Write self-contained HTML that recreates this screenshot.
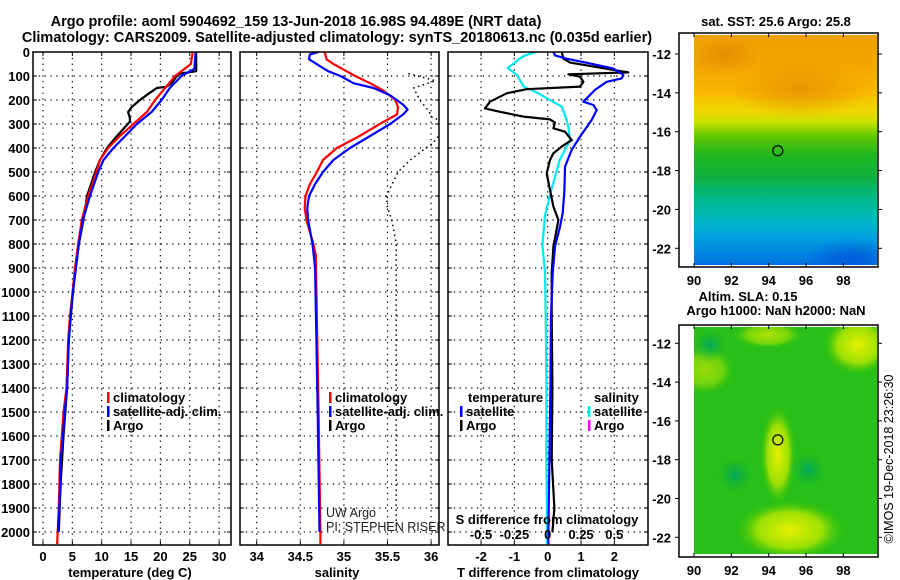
<!DOCTYPE html>
<html><head><meta charset="utf-8">
<style>
html,body{margin:0;padding:0;background:#fff;}
svg{display:block;font-family:"Liberation Sans",Arial,sans-serif;}
.t{font-weight:bold;font-size:13px;fill:#000;}
.tk{font-weight:bold;font-size:13px;fill:#000;}
</style></head>
<body>
<svg id="fig" width="900" height="580" viewBox="0 0 900 580" xmlns="http://www.w3.org/2000/svg">
<defs>
<linearGradient id="sstg" x1="0" y1="0" x2="0" y2="1">
<stop offset="0" stop-color="#f0a000"/><stop offset="0.12" stop-color="#f2a400"/><stop offset="0.25" stop-color="#f8b800"/>
<stop offset="0.33" stop-color="#f0d800"/><stop offset="0.38" stop-color="#c8e000"/><stop offset="0.44" stop-color="#60c800"/>
<stop offset="0.52" stop-color="#20b820"/><stop offset="0.62" stop-color="#10b040"/><stop offset="0.72" stop-color="#00b890"/>
<stop offset="0.8" stop-color="#00b8c0"/><stop offset="0.88" stop-color="#00a0e0"/><stop offset="1" stop-color="#0070e0"/>
</linearGradient>
<radialGradient id="yb"><stop offset="0" stop-color="#e8f000"/><stop offset="0.6" stop-color="#b8e800" stop-opacity="0.8"/><stop offset="1" stop-color="#40c000" stop-opacity="0"/></radialGradient>
<radialGradient id="db"><stop offset="0" stop-color="#00a860"/><stop offset="1" stop-color="#20b820" stop-opacity="0"/></radialGradient>
<radialGradient id="ob"><stop offset="0" stop-color="#e08000" stop-opacity="0.6"/><stop offset="1" stop-color="#e08000" stop-opacity="0"/></radialGradient>
<radialGradient id="bb"><stop offset="0" stop-color="#0050d8" stop-opacity="0.7"/><stop offset="1" stop-color="#0050d8" stop-opacity="0"/></radialGradient>
<clipPath id="cm1"><rect x="694" y="35" width="183" height="230"/></clipPath>
<clipPath id="cm2"><rect x="694" y="327" width="183" height="227"/></clipPath>
<clipPath id="c2"><rect x="240" y="52" width="199" height="493"/></clipPath>
</defs>
<g id="root"></g>
</svg>
<script>
// ---------- data ----------
const depthTicks = [0,100,200,300,400,500,600,700,800,900,1000,1100,1200,1300,1400,1500,1600,1700,1800,1900,2000];
const tempTicks = [0,5,10,15,20,25,30];
const salTicks = [34,34.5,35,35.5,36];
const salTickLabels = ["34","34.5","35","35.5","36"];
const tdiffTicks = [-2,-1,0,1,2];
const sdiffTicks = [-0.5,-0.25,0,0.25,0.5];
const sdiffTickLabels = ["-0.5","-0.25","0","0.25","0.5"];

const climTdepth = [0,50,100,150,200,250,300,350,400,450,500,600,700,800,900,1000,1100,1200,1400,1500,1600,1700,1800,1900,2000,2050];
const climTemp   = [25.5,25.2,22.5,20.8,19.1,17.7,15.4,13.1,11.1,9.7,9.1,7.7,6.6,6.0,5.45,5.05,4.6,4.3,4.0,3.5,3.2,2.9,2.8,2.7,2.5,2.4];
const satTdepth  = [0,70,100,150,200,250,300,350,400,450,500,600,700,800,900,1000,1100,1200,1400,1500,1600,1700,1800,1900,1960,2000];
const satTemp    = [26.0,25.8,23.6,21.6,20.2,18.5,16.0,14.0,12.0,10.3,9.4,8.0,6.8,6.1,5.6,5.1,4.7,4.4,4.1,3.7,3.4,3.0,2.9,2.8,2.6,2.6];
const argoTdepth = [0,80,90,100,130,145,150,170,200,230,250,275,290,350,400,450,500,600,700,800,900,1000,1200,1400,1600,1800,2000];
const argoTemp   = [26.1,26.1,23.4,22.8,21.9,21.0,19.4,18.2,16.5,15.1,14.5,14.8,14.8,12.6,10.9,9.7,8.9,7.5,6.9,6.1,5.6,5.1,4.4,4.1,3.5,3.0,2.7];

const climSdepth = [0,30,50,80,100,130,160,200,230,260,300,350,400,450,500,550,600,650,700,750,800,850,900,1500,2000,2050];
const climSal    = [34.78,34.80,34.88,35.03,35.13,35.30,35.45,35.59,35.62,35.61,35.41,35.18,34.92,34.76,34.69,34.61,34.56,34.55,34.57,34.61,34.65,34.68,34.68,34.71,34.73,34.73];
const satSdepth  = [0,10,30,60,80,100,130,150,180,220,240,260,300,350,400,450,500,550,600,650,700,800,900,1500,2000];
const satSal     = [34.71,34.61,34.60,34.73,34.82,34.96,35.11,35.34,35.53,35.68,35.73,35.68,35.53,35.30,35.07,34.88,34.76,34.67,34.60,34.58,34.59,34.64,34.67,34.70,34.72];
const argoSdepth = [90,110,120,150,200,250,270,300,380,400,450,500,600,650,700,800,900,1200,1600,2000];
const argoSal     = [35.74,35.95,36.05,35.80,35.87,35.98,36.0,36.2,36.02,35.94,35.76,35.62,35.49,35.50,35.55,35.60,35.60,35.60,35.60,35.60];

const dTsatDepth = [0,14,28,49,69,96,110,124,158,207,221,242,283,353,408,478,575,672,728,811,922,1100,1400,1700,2000,2050];
const dTsat      = [0.17,0.22,0.57,1.32,1.97,2.27,2.22,1.77,1.42,1.07,1.37,1.47,1.32,0.97,0.72,0.52,0.50,0.45,0.37,0.22,0.15,0.10,0.08,0.05,0.02,0.02];
const dTargoDepth = [0,28,44,85,93,103,124,144,155,172,207,235,249,269,281,294,318,332,367,394,422,450,506,575,644,700,811,922,1100,1400,1700,1900,2000];
const dTargo      = [0.42,0.47,0.67,2.42,0.62,0.97,1.07,0.97,-0.63,-1.23,-1.73,-1.88,-1.43,-0.73,0.07,0.22,0.17,0.52,0.72,0.42,0.17,0.07,-0.03,0.07,0.17,0.32,0.17,0.12,0.12,0.14,0.12,0.20,0.14];
const dSsatDepth = [0,14,28,67,96,144,172,207,228,263,311,367,408,450,569,681,806,917,1100,1400,1700,2000,2050];
const dSsat      = [-0.083,-0.17,-0.21,-0.30,-0.23,-0.18,-0.07,0.04,0.105,0.13,0.155,0.167,0.13,0.09,0.03,-0.02,-0.04,-0.02,-0.015,-0.01,-0.01,-0.005,-0.005];

const mapLon = [90,92,94,96,98];
const mapLat = [-12,-14,-16,-18,-20,-22];
const argoLon = 94.49, argoLat = -16.98;

// ---------- helpers ----------
const NS="http://www.w3.org/2000/svg";
const root=document.getElementById('root');
function mk(tag,attrs,parent,text){const e=document.createElementNS(NS,tag);for(const k in attrs)e.setAttribute(k,attrs[k]);if(text!==undefined)e.textContent=text;(parent||root).appendChild(e);return e;}
const Y0=52, YS=0.24;
const yD=d=>Y0+d*YS;
const PT=545;
const xT=v=>43+v*5.87;
const xS=v=>256.7+(v-34)*87.2;
const xdT=v=>547.7+v*33.33;
const xdS=v=>547.7+v*133.3;

function panel(name,x0,x1,xticks,xf){
  const g=mk('g',{});
  
  
  depthTicks.forEach(d=>{ if(d>0) mk('line',{x1:x0,x2:x1,y1:yD(d),y2:yD(d),stroke:'#000','stroke-width':1.2,'stroke-dasharray':'1.3 4.5'},g);
    mk('line',{x1:x0,x2:x0+4,y1:yD(d),y2:yD(d),stroke:'#000'},g);mk('line',{x1:x1-4,x2:x1,y1:yD(d),y2:yD(d),stroke:'#000'},g);});
  xticks.forEach(v=>{const x=xf(v);mk('line',{x1:x,x2:x,y1:Y0,y2:PT,stroke:'#000','stroke-width':1.2,'stroke-dasharray':'1.3 4.5'},g);
    mk('line',{x1:x,x2:x,y1:Y0,y2:Y0+4,stroke:'#000'},g);mk('line',{x1:x,x2:x,y1:PT-4,y2:PT,stroke:'#000'},g);});
  return g;
}
function frame(name,x0,x1){const r=mk('rect',{x:x0,y:Y0,width:x1-x0,height:PT-Y0,fill:'none',stroke:'#000','stroke-width':1.5});
  }
function line(name,xs,ds,xf,color,w,dash,clip){
  const pts=xs.map((v,i)=>xf(v).toFixed(1)+','+yD(ds[i]).toFixed(1)).join(' ');
  const a={points:pts,fill:'none',stroke:color,'stroke-width':w,'stroke-linejoin':'round'};
  if(dash)a['stroke-dasharray']=dash; if(clip)a['clip-path']=clip;
  const p=mk('polyline',a);
  
  
}

// titles
let e=mk('text',{x:296,y:26,'text-anchor':'middle',class:'t',style:'font-size:14.5px'},root,'Argo profile: aoml 5904692_159 13-Jun-2018 16.98S 94.489E (NRT data)');

e=mk('text',{x:337,y:42,'text-anchor':'middle',class:'t',style:'font-size:14.5px'},root,'Climatology: CARS2009. Satellite-adjusted climatology: synTS_20180613.nc (0.035d earlier)');


// depth axis labels
depthTicks.forEach(d=>{const t=mk('text',{x:30,y:yD(d)+5,'text-anchor':'end',class:'tk'},root,String(d));
  });

// panel 1
panel('temperature-grid',33,231,tempTicks,xT);
line('temp-argo',argoTemp,argoTdepth,xT,'#000',2.2);
line('temp-climatology',climTemp,climTdepth,xT,'#f00',2.2);
line('temp-satellite-adj',satTemp,satTdepth,xT,'#00f',2.2);
frame('temperature-panel-frame',33,231);
tempTicks.forEach(v=>{const t=mk('text',{x:xT(v),y:561,'text-anchor':'middle',class:'tk'},root,String(v));
  });
e=mk('text',{x:130,y:577,'text-anchor':'middle',class:'t'},root,'temperature (deg C)');

// panel 2
panel('salinity-grid',240,439,salTicks,xS);
line('sal-argo-dotted',argoSal,argoSdepth,xS,'#000',1.5,'1.5 3.5','url(#c2)');
line('sal-climatology',climSal,climSdepth,xS,'#f00',2.2);
line('sal-satellite-adj',satSal,satSdepth,xS,'#00f',2.2);
frame('salinity-panel-frame',240,439);
salTicks.forEach((v,i)=>{const t=mk('text',{x:xS(v),y:561,'text-anchor':'middle',class:'tk'},root,salTickLabels[i]);
  });
e=mk('text',{x:337,y:577,'text-anchor':'middle',class:'t'},root,'salinity');
e=mk('text',{x:326,y:517,'font-size':'12.5px',fill:'#222'},root,'UW Argo');
e=mk('text',{x:326,y:531,'font-size':'12.5px',fill:'#222'},root,'PI: STEPHEN RISER');

// panel 3
panel('difference-grid',448,648,tdiffTicks,xdT);
line('sdiff-satellite',dSsat,dSsatDepth,xdS,'#00e8f0',2.2);
line('tdiff-argo',dTargo,dTargoDepth,xdT,'#000',2.2);
line('tdiff-satellite',dTsat,dTsatDepth,xdT,'#00f',2.2);
frame('difference-panel-frame',448,648);
tdiffTicks.forEach(v=>{const t=mk('text',{x:xdT(v),y:561,'text-anchor':'middle',class:'tk'},root,String(v));
  });
e=mk('text',{x:548,y:577,'text-anchor':'middle',class:'t'},root,'T difference from climatology');
sdiffTicks.forEach((v,i)=>{const t=mk('text',{x:xdS(v),y:539,'text-anchor':'middle',class:'tk'},root,sdiffTickLabels[i]);
  });
e=mk('text',{x:547,y:524,'text-anchor':'middle',class:'t'},root,'S difference from climatology');

// legends
function leg(name,x,y,color,label){const g=mk('g',{});
  mk('rect',{x:x,y:y-10,width:2.5,height:11,fill:color},g);mk('text',{x:x+6,y:y,class:'t'},g,label);}
leg('legend-climatology',107,402,'#f00','climatology');
leg('legend-satellite-adj',107,416,'#00f','satellite-adj. clim.');
leg('legend-argo',107,430,'#000','Argo');
leg('legend-sal-climatology',329,402,'#f00','climatology');
leg('legend-sal-satellite-adj',329,416,'#00f','satellite-adj. clim.');
leg('legend-sal-argo',329,430,'#000','Argo');
e=mk('text',{x:468,y:402,class:'t'},root,'temperature');
leg('legend-tdiff-satellite',460,416,'#00f','satellite');
leg('legend-tdiff-argo',460,430,'#000','Argo');
e=mk('text',{x:594,y:402,class:'t'},root,'salinity');
leg('legend-sdiff-satellite',588,416,'#00e8f0','satellite');
leg('legend-sdiff-argo',588,430,'#f0f','Argo');

// maps
const lonX=v=>694+(v-90)*18.67;
function map(name,top,bottom,latY,fillFn){
  const g=mk('g',{});
  fillFn(g);
  mk('rect',{x:679,y:top,width:199,height:bottom-top,fill:'none',stroke:'#000','stroke-width':1.5},g);
  mapLon.forEach(v=>{mk('line',{x1:lonX(v),x2:lonX(v),y1:top,y2:top+4,stroke:'#000'},g);mk('line',{x1:lonX(v),x2:lonX(v),y1:bottom-4,y2:bottom,stroke:'#000'},g);
    const t=mk('text',{x:lonX(v),y:bottom+18,'text-anchor':'middle',class:'tk'},g,String(v));});
  mapLat.forEach(v=>{const y=latY(v);mk('line',{x1:679,x2:675,y1:y,y2:y,stroke:'#000'},g);mk('line',{x1:878,x2:882,y1:y,y2:y,stroke:'#000'},g);
    const t=mk('text',{x:671,y:y+5,'text-anchor':'end',class:'tk'},g,String(v));});
  const c=mk('circle',{cx:lonX(argoLon),cy:latY(argoLat),r:5,fill:'none',stroke:'#000','stroke-width':1.2},g);
  
}
const lat1=v=>54+(-12-v)*19.43;
map('sst-map',33,267,lat1,g=>{const q=mk('g',{'clip-path':'url(#cm1)'},g);
  mk('rect',{x:694,y:35,width:183,height:230,fill:'url(#sstg)'},q);
  mk('ellipse',{cx:800,cy:90,rx:70,ry:30,fill:'url(#ob)'},q);
  mk('ellipse',{cx:725,cy:55,rx:35,ry:20,fill:'url(#ob)'},q);
  mk('ellipse',{cx:850,cy:258,rx:45,ry:20,fill:'url(#bb)'},q);});
e=mk('text',{x:776,y:26,'text-anchor':'middle',class:'t'},root,'sat. SST: 25.6 Argo: 25.8');
const lat2=v=>343.3+(-12-v)*19.4;
map('sla-map',325,557,lat2,g=>{const q=mk('g',{'clip-path':'url(#cm2)'},g);
  mk('rect',{x:694,y:327,width:183,height:227,fill:'#28c018'},q);
  mk('ellipse',{cx:858,cy:345,rx:35,ry:30,fill:'url(#yb)'},q);
  mk('ellipse',{cx:768,cy:335,rx:35,ry:14,fill:'url(#yb)',opacity:0.7},q);
  mk('ellipse',{cx:778,cy:455,rx:18,ry:50,fill:'url(#yb)'},q);
  mk('ellipse',{cx:790,cy:530,rx:55,ry:30,fill:'url(#yb)'},q);
  mk('ellipse',{cx:705,cy:370,rx:30,ry:25,fill:'url(#yb)',opacity:0.6},q);
  mk('ellipse',{cx:735,cy:475,rx:20,ry:20,fill:'url(#db)'},q);
  mk('ellipse',{cx:808,cy:470,rx:20,ry:20,fill:'url(#db)'},q);
  mk('ellipse',{cx:710,cy:345,rx:18,ry:18,fill:'url(#db)'},q);});
e=mk('text',{x:748,y:301,'text-anchor':'middle',class:'t'},root,'Altim. SLA: 0.15');
e=mk('text',{x:776,y:315,'text-anchor':'middle',class:'t'},root,'Argo h1000: NaN h2000: NaN');
e=mk('text',{x:893,y:459,'text-anchor':'middle','font-size':'12.5px',fill:'#000',transform:'rotate(-90 893 459)'},root,'©IMOS 19-Dec-2018 23:26:30');

</script>
</body></html>
